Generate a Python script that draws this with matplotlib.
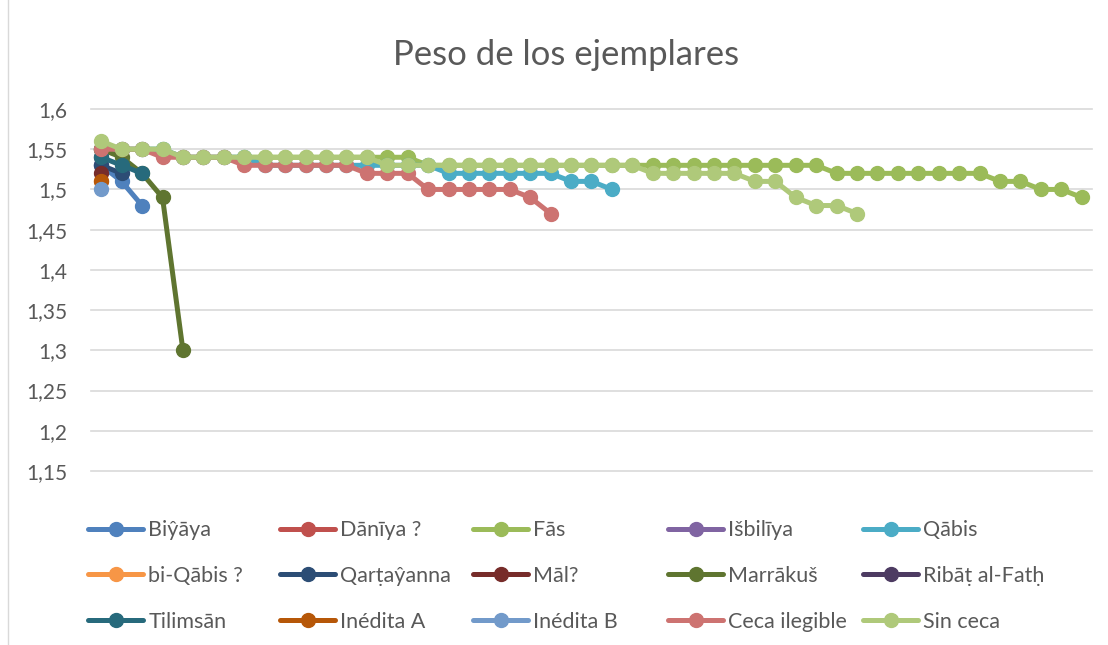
import matplotlib.pyplot as plt
from matplotlib.lines import Line2D
from matplotlib.ticker import FuncFormatter

plt.rcParams['font.family'] = ['Lato', 'DejaVu Sans']

# series names, in legend order
names = ['Biŷāya', 'Dānīya ?', 'Fās', 'Išbilīya', 'Qābis',
         'bi-Qābis ?', 'Qarṭaŷanna', 'Māl?', 'Marrākuš', 'Ribāṭ al-Fatḥ',
         'Tilimsān', 'Inédita A', 'Inédita B', 'Ceca ilegible', 'Sin ceca']

colors = ['#4F81BD', '#C0504D', '#9BBB59', '#8064A2', '#4BACC6',
          '#F79646', '#2C4D75', '#772C2A', '#5F7530', '#4D3B62',
          '#276A7C', '#B65708', '#729ACA', '#CD7371', '#AFC97A']

# weights (g), one value per specimen, ordered
biyaya = [1.53, 1.51, 1.48]
daniya = [1.55]
fas = [1.55, 1.55, 1.55, 1.55, 1.54, 1.54, 1.54, 1.54, 1.54, 1.54,
       1.54, 1.54, 1.54, 1.54, 1.54, 1.54, 1.53, 1.53, 1.53, 1.53,
       1.53, 1.53, 1.53, 1.53, 1.53, 1.53, 1.53, 1.53, 1.53, 1.53,
       1.53, 1.53, 1.53, 1.53, 1.53, 1.53, 1.52, 1.52, 1.52, 1.52,
       1.52, 1.52, 1.52, 1.52, 1.51, 1.51, 1.50, 1.50, 1.49]
isbiliya = [1.53]
qabis = [1.55, 1.55, 1.55, 1.55, 1.54, 1.54, 1.54, 1.54, 1.53, 1.53,
         1.53, 1.53, 1.53, 1.53, 1.53, 1.53, 1.53, 1.52, 1.52, 1.52,
         1.52, 1.52, 1.52, 1.51, 1.51, 1.50]
bi_qabis = [1.51]
qartayanna = [1.53, 1.52]
mal = [1.52]
marrakus = [1.55, 1.54, 1.52, 1.49, 1.30]
ribat = [1.54]
tilimsan = [1.54, 1.53, 1.52]
inedita_a = [1.51]
inedita_b = [1.50]
ceca_ilegible = [1.55, 1.55, 1.55, 1.54, 1.54, 1.54, 1.54, 1.53, 1.53, 1.53,
                 1.53, 1.53, 1.53, 1.52, 1.52, 1.52, 1.50, 1.50, 1.50, 1.50,
                 1.50, 1.49, 1.47]
sin_ceca = [1.56, 1.55, 1.55, 1.55, 1.54, 1.54, 1.54, 1.54, 1.54, 1.54,
            1.54, 1.54, 1.54, 1.54, 1.53, 1.53, 1.53, 1.53, 1.53, 1.53,
            1.53, 1.53, 1.53, 1.53, 1.53, 1.53, 1.53, 1.52, 1.52, 1.52,
            1.52, 1.52, 1.51, 1.51, 1.49, 1.48, 1.48, 1.47]

series = [biyaya, daniya, fas, isbiliya, qabis,
          bi_qabis, qartayanna, mal, marrakus, ribat,
          tilimsan, inedita_a, inedita_b, ceca_ilegible, sin_ceca]

W, H = 1108, 645
fig = plt.figure(figsize=(W / 100, H / 100), dpi=100)
ax = fig.add_axes([91 / W, 1 - 471 / H, (1092 - 91) / W, (471 - 109) / H])

handles = []
for name, col, vals in zip(names, colors, series):
    h, = ax.plot(range(len(vals)), vals, color=col, lw=3.6,
                 marker='o', ms=10, solid_capstyle='round', label=name)
    handles.append(h)

ax.set_xlim(-0.5, 48.5)
ax.set_ylim(1.15, 1.6)
ax.set_yticks([1.15, 1.2, 1.25, 1.3, 1.35, 1.4, 1.45, 1.5, 1.55, 1.6])
ax.yaxis.set_major_formatter(FuncFormatter(lambda v, p: f'{v:g}'.replace('.', ',')))
ax.set_xticks([])
ax.grid(axis='y', color='#D9D9D9', lw=1.2)
for gl in ax.get_ygridlines():
    gl.set_clip_on(False)
ax.set_axisbelow(True)
for s in ax.spines.values():
    s.set_visible(False)
ax.tick_params(axis='y', length=0, pad=17, labelsize=15, labelcolor='#595959')

fig.text(566 / W, 1 - 55 / H, 'Peso de los ejemplares', ha='center', va='center',
         fontsize=25, color='#595959')

# legend: one block per column so the columns sit at even spacing
col_x = [73, 265, 458, 653, 848]
for c in range(5):
    idx = [c, c + 5, c + 10]
    leg = fig.legend([handles[i] for i in idx], [names[i] for i in idx],
                     ncol=1, loc='upper left',
                     bbox_to_anchor=(col_x[c] / W, 1 - 505 / H),
                     frameon=False, fontsize=15.5, handlelength=2.55,
                     handletextpad=0.25, labelspacing=1.2,
                     borderpad=0.2, labelcolor='#595959')

# chart border on the left
fig.add_artist(Line2D([8 / W, 8 / W], [0, 1], color='#D9D9D9', lw=1))

fig.savefig('out.png', dpi=100)
